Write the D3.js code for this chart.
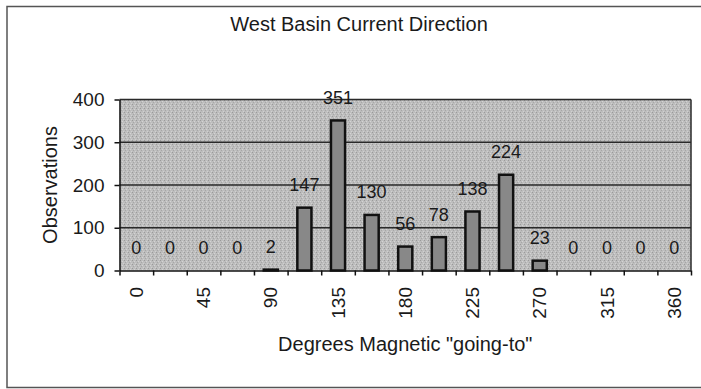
<!DOCTYPE html>
<html>
<head>
<meta charset="utf-8">
<script src="https://cdn.jsdelivr.net/npm/d3@7"></script>
<style>
  body { margin: 0; background: #fff; }
  svg text { font-family: "Liberation Sans", Arial, sans-serif; fill: #1a1a1a; }
</style>
</head>
<body>
<div id="chartDiv"></div>
<script>
// degrees magnetic, every 22.5 deg
var categories = ["0", "22.5", "45", "67.5", "90", "112.5", "135", "157.5", "180",
                  "202.5", "225", "247.5", "270", "292.5", "315", "337.5", "360"];
var observations = [0, 0, 0, 0, 2, 147, 351, 130, 56, 78, 138, 224, 23, 0, 0, 0, 0];
var shownLabels = ["0", "45", "90", "135", "180", "225", "270", "315", "360"];
var yTicks = [0, 100, 200, 300, 400];

var width = 701, height = 389;
// plot area edges (note: "top" clashes with window.top)
var plotLeft = 119.5, plotRight = 691, plotTop = 99.5, plotBottom = 270.5;

var svg = d3.select('#chartDiv').append('svg')
  .attr('width', width)
  .attr('height', height);

// speckled grey fill like the scanned plot area
var defs = svg.append('defs');
var pat = defs.append('pattern')
  .attr('id', 'stipple')
  .attr('width', 4).attr('height', 4)
  .attr('patternUnits', 'userSpaceOnUse');
pat.append('rect').attr('width', 4).attr('height', 4).attr('fill', '#bdbdbd');
pat.append('rect').attr('x', 0).attr('y', 0).attr('width', 1).attr('height', 1).attr('fill', '#9a9a9a');
pat.append('rect').attr('x', 2).attr('y', 1).attr('width', 1).attr('height', 1).attr('fill', '#d4d4d4');
pat.append('rect').attr('x', 1).attr('y', 2).attr('width', 1).attr('height', 1).attr('fill', '#a6a6a6');
pat.append('rect').attr('x', 3).attr('y', 3).attr('width', 1).attr('height', 1).attr('fill', '#d0d0d0');

// outer chart frame (right side runs off the page)
svg.append('path')
  .attr('d', 'M712,6.5 H7 V387.5 H712')
  .attr('fill', 'none')
  .attr('stroke', '#555')
  .attr('stroke-width', 1.5);

var x = d3.scaleBand()
  .domain(categories)
  .range([plotLeft, plotRight])
  .paddingInner(0.58)
  .paddingOuter(0.29);

var xTickScale = d3.scaleLinear()
  .domain([0, categories.length])
  .range([plotLeft, plotRight]);

var y = d3.scaleLinear()
  .domain([0, 400])
  .range([plotBottom, plotTop]);

svg.append('rect')
  .attr('x', plotLeft).attr('y', plotTop)
  .attr('width', plotRight - plotLeft).attr('height', plotBottom - plotTop)
  .attr('fill', 'url(#stipple)');

// gridlines + top edge
svg.append('g')
  .selectAll('line')
  .data(yTicks.slice(1))
  .enter()
  .append('line')
  .attr('x1', plotLeft).attr('x2', plotRight)
  .attr('y1', function (d) { return y(d); })
  .attr('y2', function (d) { return y(d); })
  .attr('stroke', '#2a2a2a')
  .attr('stroke-width', 1.5);

svg.append('line')
  .attr('x1', plotRight).attr('x2', plotRight)
  .attr('y1', plotTop).attr('y2', plotBottom)
  .attr('stroke', '#2a2a2a')
  .attr('stroke-width', 1.5);

// bars
svg.append('g')
  .selectAll('rect')
  .data(observations)
  .enter()
  .append('rect')
  .attr('x', function (d, i) { return x(categories[i]); })
  .attr('y', function (d) { return y(d); })
  .attr('width', x.bandwidth())
  .attr('height', function (d) { return plotBottom - y(d); })
  .attr('fill', '#888')
  .attr('stroke', '#111')
  .attr('stroke-width', 2.5);

// value labels
svg.append('g')
  .selectAll('text')
  .data(observations)
  .enter()
  .append('text')
  .attr('x', function (d, i) { return x(categories[i]) + x.bandwidth() / 2; })
  .attr('y', function (d) { return y(d) - 16.5; })
  .attr('text-anchor', 'middle')
  .style('font-size', '18px')
  .text(function (d) { return d; });

// y axis
var yAxis = svg.append('g')
  .attr('transform', 'translate(' + plotLeft + ',0)')
  .call(d3.axisLeft(y).tickValues(yTicks).tickSize(5).tickPadding(10).tickSizeOuter(0));
yAxis.select('.domain').attr('stroke', '#111').attr('stroke-width', 1.5);
yAxis.selectAll('.tick line').attr('stroke', '#111').attr('stroke-width', 1.5);
yAxis.selectAll('.tick text').style('font-size', '19px').attr('fill', '#1a1a1a');

// x axis: ticks sit between categories
var xAxis = svg.append('g')
  .attr('transform', 'translate(0,' + plotBottom + ')')
  .call(d3.axisBottom(xTickScale).ticks(categories.length).tickSize(5).tickSizeOuter(0).tickFormat(''));
xAxis.select('.domain').attr('stroke', '#111').attr('stroke-width', 1.5);
xAxis.selectAll('.tick line').attr('stroke', '#111').attr('stroke-width', 1.5);

svg.append('g')
  .selectAll('text')
  .data(shownLabels)
  .enter()
  .append('text')
  .attr('transform', function (d) {
    return 'translate(' + (x(d) + x.bandwidth() / 2) + ',287) rotate(-90)';
  })
  .attr('text-anchor', 'end')
  .attr('dy', '0.35em')
  .style('font-size', '19px')
  .text(function (d) { return d; });

// titles
svg.append('text')
  .attr('x', 359).attr('y', 30.7)
  .attr('text-anchor', 'middle')
  .style('font-size', '20px')
  .text('West Basin Current Direction');

svg.append('text')
  .attr('transform', 'translate(49.5,' + ((plotTop + plotBottom) / 2) + ') rotate(-90)')
  .attr('text-anchor', 'middle')
  .attr('dy', '0.35em')
  .style('font-size', '20px')
  .text('Observations');

svg.append('text')
  .attr('x', (plotLeft + plotRight) / 2).attr('y', 350.7)
  .attr('text-anchor', 'middle')
  .style('font-size', '20px')
  .text('Degrees Magnetic "going-to"');
</script>
</body>
</html>
